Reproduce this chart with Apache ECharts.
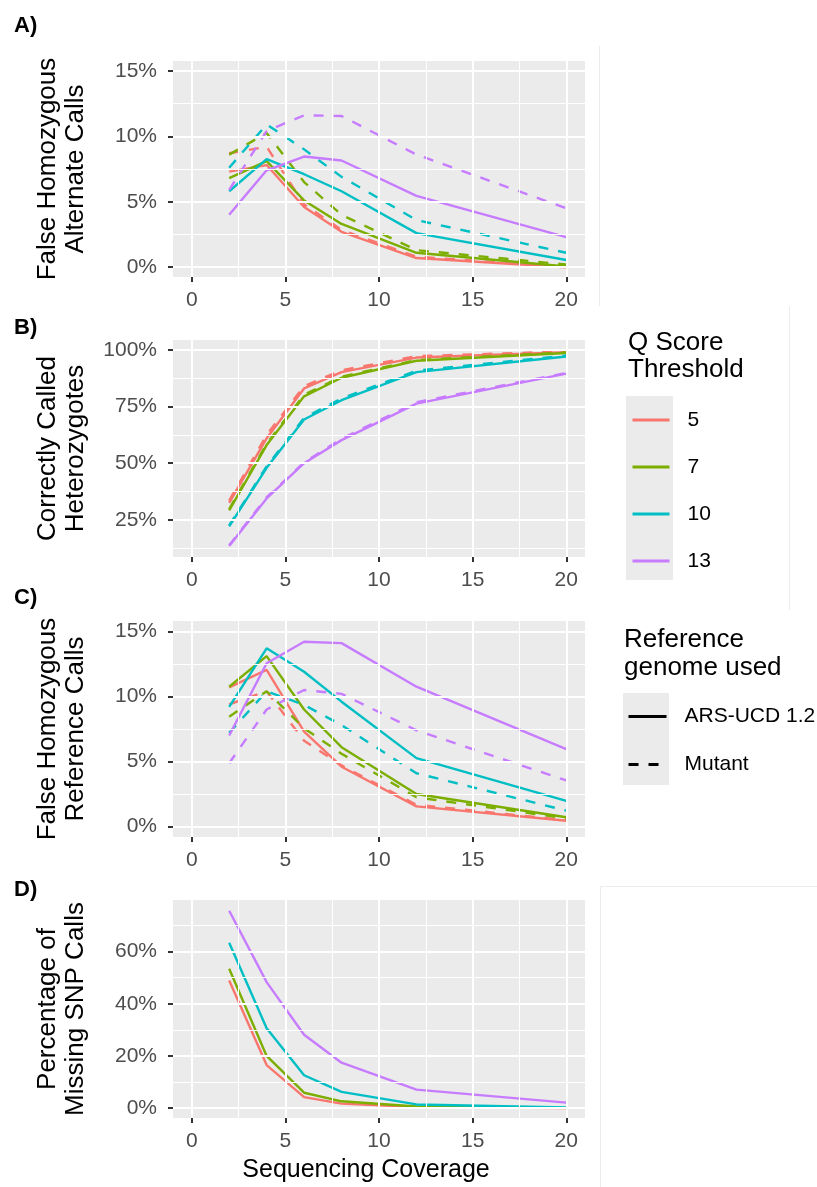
<!DOCTYPE html>
<html>
<head>
<meta charset="utf-8">
<script src="https://cdn.jsdelivr.net/npm/echarts@6/dist/echarts.min.js"></script>
<style>
  html, body { margin: 0; padding: 0; background: #fff; }
  #chart { width: 817px; height: 1187px; }
</style>
</head>
<body>
<div id="chart"></div>
<script>
// sequencing coverage (x) shared by every panel
const coverage = [2, 4, 6, 8, 12, 20];
const qScores = ['5', '7', '10', '13'];
const qColors = ['#F8766D', '#7CAE00', '#00BFC4', '#C77CFF'];
const genomes = ['ARS-UCD 1.2', 'Mutant'];

// rows follow qScores: 5, 7, 10, 13 (values in %)
// A) false homozygous alternate calls
const altArs = [
  [7.3, 7.8, 4.6, 2.7, 0.7, 0.0],
  [6.8, 8.1, 5.1, 3.3, 1.1, 0.05],
  [5.8, 8.25, 7.1, 5.8, 2.6, 0.55],
  [4.0, 7.4, 8.45, 8.15, 5.45, 2.3]
];
const altMutant = [
  [8.7, 9.2, 4.8, 2.85, 0.8, 0.02],
  [8.6, 10.25, 6.5, 4.0, 1.3, 0.2],
  [7.6, 10.9, 9.0, 6.9, 3.6, 1.1],
  [5.9, 10.4, 11.6, 11.55, 8.6, 4.5]
];
// B) correctly called heterozygotes
const hetArs = [
  [32.5, 61, 83, 90.2, 96.6, 99.0],
  [29.2, 58, 79.5, 87.7, 95.2, 98.6],
  [22.2, 48, 69.3, 77.8, 90.2, 97.1],
  [13.5, 34.5, 50, 60.2, 76.3, 89.5]
];
const hetMutant = [
  [33.5, 62.5, 84, 91, 97.2, 99.3],
  [29.8, 58.6, 80.2, 88.2, 95.5, 98.9],
  [22.6, 48.6, 70, 78.6, 90.8, 97.5],
  [13.8, 35, 50.4, 60.8, 76.9, 89.8]
];
// C) false homozygous reference calls
const refArs = [
  [10.7, 12.05, 7.3, 4.6, 1.55, 0.45],
  [10.75, 13.1, 9.0, 6.1, 2.5, 0.72],
  [9.2, 13.7, 11.9, 9.6, 5.26, 1.97],
  [7.0, 12.55, 14.2, 14.1, 10.75, 5.95]
];
const refMutant = [
  [9.4, 10.4, 6.6, 4.7, 1.67, 0.5],
  [8.45, 10.4, 7.55, 5.6, 2.25, 0.64],
  [7.2, 10.4, 9.35, 7.8, 4.1, 1.23],
  [4.87, 9.0, 10.5, 10.2, 7.4, 3.55]
];
// D) missing SNP calls
const missArs = [
  [48.9, 16.5, 4.2, 1.7, 0.4, 0.0],
  [53.4, 20, 5.9, 2.6, 0.6, 0.1],
  [63.4, 30.6, 12.6, 6.2, 1.4, 0.2],
  [75.7, 48.3, 28.1, 17.4, 7.1, 2.1]
];

// tick values
const xTicks = [0, 5, 10, 15, 20];
const xMinor = [2.5, 7.5, 12.5, 17.5];
const fhTicks = [0, 5, 10, 15];
const fhMinor = [2.5, 7.5, 12.5];
const hetTicks = [25, 50, 75, 100];
const hetMinor = [12.5, 37.5, 62.5, 87.5];
const missTicks = [0, 20, 40, 60];
const missMinor = [10, 30, 50, 70];

const panels = [
  {label: 'A)', labelY: 26, title: 'False Homozygous\nAlternate Calls', top: 61, height: 216,
   yMin: -0.75, yMax: 15.75, yTicks: fhTicks, yMinor: fhMinor, ars: altArs, mutant: altMutant},
  {label: 'B)', labelY: 328, title: 'Correctly Called\nHeterozygotes', top: 340, height: 217,
   yMin: 8.65, yMax: 104.35, yTicks: hetTicks, yMinor: hetMinor, ars: hetArs, mutant: hetMutant},
  {label: 'C)', labelY: 598, title: 'False Homozygous\nReference Calls', top: 621, height: 216,
   yMin: -0.8, yMax: 15.8, yTicks: fhTicks, yMinor: fhMinor, ars: refArs, mutant: refMutant},
  {label: 'D)', labelY: 890, title: 'Percentage of\nMissing SNP Calls', top: 900, height: 218,
   yMin: -3.8, yMax: 79.8, yTicks: missTicks, yMinor: missMinor, ars: missArs, mutant: null}
];

const FONT = '"Liberation Sans", Arial, sans-serif';
const LEFT = 173;
const WIDTH = 412;
const DASH = [10, 10];

function axis(dim, gridIndex, min, max, ticks) {
  return {
    type: 'value',
    gridIndex: gridIndex,
    min: min,
    max: max,
    position: dim === 'x' ? 'bottom' : 'left',
    axisLine: {show: false, onZero: false},
    axisTick: {show: true, customValues: ticks, length: 5, lineStyle: {color: '#333', width: 2}},
    axisLabel: {
      show: true, customValues: ticks, margin: dim === 'x' ? 13 : 16,
      fontFamily: FONT, fontSize: 21, color: '#4d4d4d',
      formatter: dim === 'y' ? '{value}%' : '{value}'
    },
    splitLine: {show: false}
  };
}

function gridLines(major, minor, key) {
  return major.map(v => ({[key]: v, lineStyle: {width: 2}}))
    .concat(minor.map(v => ({[key]: v, lineStyle: {width: 1}})));
}

const grid = [], xAxis = [], yAxis = [], series = [], graphic = [];

panels.forEach((p, i) => {
  grid.push({left: LEFT, top: p.top, width: WIDTH, height: p.height, show: true,
    backgroundColor: '#ebebeb', borderWidth: 0});
  xAxis.push(axis('x', i, -1, 21, xTicks));
  yAxis.push(axis('y', i, p.yMin, p.yMax, p.yTicks));

  // white panel grid, placed through the axes' own scales
  series.push({
    type: 'line', xAxisIndex: i, yAxisIndex: i, data: [], z: 1, silent: true,
    markLine: {
      silent: true, symbol: ['none', 'none'], label: {show: false}, animation: false,
      emphasis: {disabled: true},
      lineStyle: {color: '#ffffff', type: 'solid'},
      data: gridLines(xTicks, xMinor, 'xAxis').concat(gridLines(p.yTicks, p.yMinor, 'yAxis'))
    }
  });
});

// data lines: first series per name is panel A solid, so legend icons are solid
panels.forEach((p, i) => {
  qScores.forEach((q, j) => {
    const sets = [[p.ars, 'solid']];
    if (p.mutant) sets.push([p.mutant, DASH]);
    sets.forEach(([vals, dash]) => {
      series.push({
        name: q, type: 'line', xAxisIndex: i, yAxisIndex: i, z: 3,
        symbol: 'none', silent: true, animation: false,
        color: qColors[j],
        lineStyle: {color: qColors[j], width: 2.4, type: dash},
        data: coverage.map((x, k) => [x, vals[j][k]])
      });
    });
  });
});

// linetype legend entries
genomes.forEach((g, k) => {
  series.push({
    name: g, type: 'line', xAxisIndex: 0, yAxisIndex: 0, data: [], symbol: 'none',
    color: '#000', lineStyle: {color: '#000', width: 2.4, type: k === 0 ? 'solid' : DASH}
  });
});

panels.forEach(p => {
  graphic.push({
    type: 'text', x: 14, y: p.labelY,
    style: {text: p.label, font: 'bold 22px ' + FONT, fill: '#000',
      align: 'left', verticalAlign: 'middle', textAlign: 'left', textVerticalAlign: 'middle'}
  });
  graphic.push({
    type: 'text', x: 62, y: p.top + p.height / 2, rotation: Math.PI / 2,
    style: {text: p.title, font: '26px ' + FONT, fill: '#000', lineHeight: 28,
      align: 'center', verticalAlign: 'middle', textAlign: 'center', textVerticalAlign: 'middle'}
  });
});

graphic.push({
  type: 'text', x: 366, y: 1170,
  style: {text: 'Sequencing Coverage', font: '25px ' + FONT, fill: '#000',
    align: 'center', verticalAlign: 'middle', textAlign: 'center', textVerticalAlign: 'middle'}
});

// legend titles and key backgrounds
graphic.push({
  type: 'text', x: 628, y: 329,
  style: {text: 'Q Score\nThreshold', font: '26px ' + FONT, fill: '#000', lineHeight: 27,
    align: 'left', verticalAlign: 'top', textAlign: 'left', textVerticalAlign: 'top'}
});
graphic.push({
  type: 'text', x: 624, y: 626,
  style: {text: 'Reference\ngenome used', font: '26px ' + FONT, fill: '#000', lineHeight: 28,
    align: 'left', verticalAlign: 'top', textAlign: 'left', textVerticalAlign: 'top'}
});
graphic.push({type: 'rect', shape: {x: 626, y: 396, width: 47, height: 184}, style: {fill: '#ebebeb'}, z: 0});
graphic.push({type: 'rect', shape: {x: 623, y: 693, width: 46, height: 92}, style: {fill: '#ebebeb'}, z: 0});

// faint frame lines of the pasted sub-figures
[[599.5, 46, 599.5, 306], [789.5, 306, 789.5, 610], [600, 886.5, 817, 886.5], [600.5, 886, 600.5, 1187]]
  .forEach(([x1, y1, x2, y2]) => {
    graphic.push({type: 'line', shape: {x1, y1, x2, y2}, style: {stroke: '#ececec', lineWidth: 1}, z: 0});
  });

const legendBase = {
  orient: 'vertical', padding: 0, itemHeight: 20, selectedMode: false,
  textStyle: {fontFamily: FONT, fontSize: 21, color: '#000', lineHeight: 20, padding: [0, 0, 0, 13]},
  lineStyle: {width: 3},
  itemStyle: {opacity: 0}
};

const chart = echarts.init(document.getElementById('chart'));
chart.setOption({
  animation: false,
  backgroundColor: '#ffffff',
  grid: grid,
  xAxis: xAxis,
  yAxis: yAxis,
  legend: [
    Object.assign({}, legendBase, {data: qScores, left: 631, top: 409.5, itemWidth: 37, itemGap: 26}),
    Object.assign({}, legendBase, {data: genomes, left: 627, top: 706, itemWidth: 38, itemGap: 27})
  ],
  graphic: graphic,
  series: series
});
</script>
</body>
</html>
